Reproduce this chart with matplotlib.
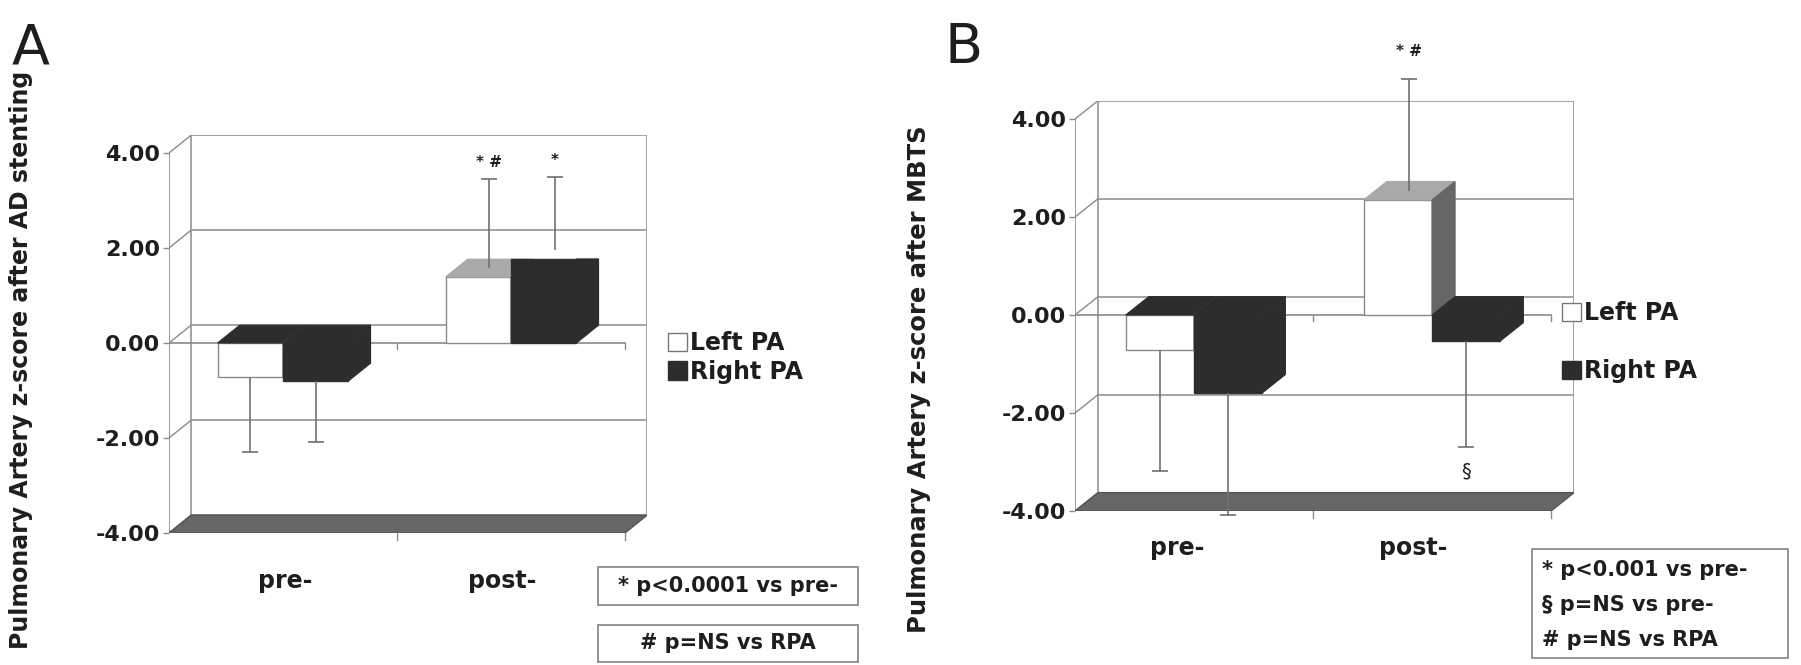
import matplotlib
matplotlib.use('Agg')
import matplotlib.pyplot as plt
from matplotlib.patches import Polygon, Rectangle, Patch

W, H = 1801, 665

categories = ['pre-', 'post-']
series = ['Left PA', 'Right PA']
yticks = [-4, -2, 0, 2, 4]

# panel A: after AD stenting
a_left = [-0.72, 1.39]
a_right = [-0.80, 1.77]
a_left_sd = [1.57, 1.87]
a_right_sd = [1.28, 1.53]

# panel B: after MBTS
b_left = [-0.71, 2.35]
b_right = [-1.59, -0.53]
b_left_sd = [2.47, 2.27]
b_right_sd = [2.50, 2.16]

a_notes = ['* p<0.0001 vs pre-', '# p=NS vs RPA']
b_notes = ['* p<0.001 vs pre-', '\u00a7 p=NS vs pre-', '# p=NS vs RPA']

BAR_W = 0.287
DX = 0.097
DY = 0.375

DARK = '#2d2d2d'
GRID = '#a4a4a4'
AXC = '#8a8a8a'
TXT = '#1e1e1e'

plt.rcParams['font.family'] = ['DejaVu Sans']

fig = plt.figure(figsize=(W / 100, H / 100), dpi=100)
fig.patch.set_facecolor('white')


def make_axes(x_px0, x_scale, y_px0, y_scale):
    # pixel position of the data box (-0.5 .. 1.5+DX, -4 .. 4+DY)
    left = x_px0
    right = x_px0 + (2 + DX) * x_scale
    top = y_px0 - (4 + DY) * y_scale
    bottom = y_px0 + 4 * y_scale
    ax = fig.add_axes([left / W, 1 - bottom / H, (right - left) / W, (bottom - top) / H])
    ax.set_xlim(-0.5, 1.5 + DX)
    ax.set_ylim(-4, 4 + DY)
    for s in ax.spines.values():
        s.set_visible(False)
    ax.patch.set_alpha(0)
    return ax


def draw_bar(ax, x0, v, front, top, side, edge, show_top=True):
    w = BAR_W
    ax.add_patch(Rectangle((x0, min(v, 0)), w, abs(v), fc=front, ec=edge, lw=1, zorder=3))
    if v >= 0:
        if show_top:
            ax.add_patch(Polygon([(x0, v), (x0 + w, v), (x0 + w + DX, v + DY), (x0 + DX, v + DY)],
                                 fc=top, ec=top, lw=0.8, zorder=3))
            ax.add_patch(Polygon([(x0 + w, 0), (x0 + w + DX, DY), (x0 + w + DX, v + DY), (x0 + w, v)],
                                 fc=side, ec=side, lw=0.8, zorder=3))
        else:
            ax.add_patch(Polygon([(x0 + w, 0), (x0 + w + DX, DY), (x0 + w + DX, v), (x0 + w, v)],
                                 fc=side, ec=side, lw=0.8, zorder=3))
    else:
        ax.add_patch(Polygon([(x0, 0), (x0 + w, 0), (x0 + w + DX, DY), (x0 + DX, DY)],
                             fc=DARK, ec=DARK, lw=0.8, zorder=3))
        ax.add_patch(Polygon([(x0 + w, v), (x0 + w + DX, v + DY), (x0 + w + DX, DY), (x0 + w, 0)],
                             fc=side, ec=side, lw=0.8, zorder=3))


def draw_err(ax, xc, v, sd):
    if v >= 0:
        ex, ey, yerr = xc + DX / 2, v + DY / 2, [[0], [sd]]
    else:
        ex, ey, yerr = xc, v, [[sd], [0]]
    _, caps, _ = ax.errorbar([ex], [ey], yerr=yerr, fmt='none', ecolor='#707070',
                             elinewidth=1.2, capsize=5.5, capthick=1.2, zorder=5, clip_on=False)
    for c in caps:
        c.set_clip_on(False)
        if abs(c.get_ydata()[0] - ey) < 1e-9:
            c.set_visible(False)
    return ex, (ey + sd if v >= 0 else ey - sd)


def panel(ax, left, right, left_sd, right_sd, xlabel_pos, xlabel_pad):
    # back wall and grid
    ax.add_patch(Rectangle((-0.5 + DX, -4 + DY), 2, 8, fc='white', ec=GRID, lw=1.4, zorder=1))
    for g in yticks:
        ax.plot([-0.5 + DX, 1.5 + DX], [g + DY, g + DY], color=GRID, lw=1.4, zorder=1)
        ax.plot([-0.5, -0.5 + DX], [g, g + DY], color=AXC, lw=1.0, zorder=1)
    ax.plot([-0.5, -0.5], [-4, 4], color=AXC, lw=1.2, zorder=2)
    # floor
    ax.add_patch(Polygon([(-0.5, -4), (1.5, -4), (1.5 + DX, -4 + DY), (-0.5 + DX, -4 + DY)],
                         fc='#666666', ec='#555555', lw=1, zorder=2))
    # category axis at zero and floor ticks
    ax.plot([-0.5, 1.5], [0, 0], color=AXC, lw=1.2, zorder=2)
    for xt in [0.5, 1.5]:
        ax.plot([xt, xt], [0, -0.12], color=AXC, lw=1.0, zorder=2)
        ax.plot([xt, xt], [-4, -4.14], color=AXC, lw=1.0, zorder=2, clip_on=False)

    tips = []
    for i in range(len(categories)):
        xl = i - BAR_W
        xr = i
        lv, rv = left[i], right[i]
        draw_bar(ax, xl, lv, 'white', '#a9a9a9' if lv >= 0 else DARK, '#666666', '#8a8a8a')
        draw_bar(ax, xr, rv, DARK, DARK, DARK, DARK, show_top=False)
        tips.append(draw_err(ax, xl + BAR_W / 2, lv, left_sd[i]))
        tips.append(draw_err(ax, xr + BAR_W / 2, rv, right_sd[i]))

    ax.set_yticks(yticks)
    ax.set_yticklabels(['%.2f' % t for t in yticks])
    ax.tick_params(axis='y', length=4.5, width=1, color=AXC, pad=2, labelsize=16,
                   labelcolor=TXT)
    ax.set_xticks(xlabel_pos)
    ax.set_xticklabels(categories)
    ax.tick_params(axis='x', length=0, pad=xlabel_pad, labelsize=17, labelcolor=TXT)
    for lab in ax.get_xticklabels() + ax.get_yticklabels():
        lab.set_fontweight('bold')
    return tips


def note_box(x0, y0, x1, y1):
    fig.add_artist(Rectangle((x0 / W, 1 - y1 / H), (x1 - x0) / W, (y1 - y0) / H,
                             transform=fig.transFigure, fc='white', ec='#8c8c8c', lw=1.3))


def legend(ax, x_px, y_px, spacing):
    handles = [Patch(fc='white', ec='#777777', lw=1), Patch(fc=DARK, ec=DARK)]
    ax.legend(handles, series, loc='upper left', bbox_to_anchor=(x_px / W, 1 - y_px / H),
              bbox_transform=fig.transFigure, frameon=False, handlelength=0.8,
              handleheight=0.8, handletextpad=0.15, borderpad=0, borderaxespad=0,
              labelspacing=spacing, prop={'size': 17, 'weight': 'bold'}, labelcolor=TXT)


# ---- panel A ----
axA = make_axes(169, 228, 343, 47.5)
tipsA = panel(axA, a_left, a_right, a_left_sd, a_right_sd, [0.01, 0.96], 26)
axA.text(tipsA[2][0], tipsA[2][1] + 0.36, '* #', ha='center', va='center', fontsize=11,
         fontweight='bold', color=TXT)
axA.text(tipsA[3][0], tipsA[3][1] + 0.36, '*', ha='center', va='center', fontsize=11,
         fontweight='bold', color=TXT)
legend(axA, 668, 331, 0.2)
fig.text(12 / W, 1 - 63 / H, 'A', fontsize=40, va='baseline', ha='left', color=TXT)
fig.text(21 / W, 1 - 360 / H, 'Pulmonary Artery z-score after AD stenting', rotation=90,
         ha='center', va='center', fontsize=17, fontweight='bold', color=TXT)
note_box(598, 567, 858, 605)
fig.text(728 / W, 1 - 586 / H, a_notes[0], ha='center', va='center', fontsize=15,
         fontweight='bold', color=TXT)
note_box(598, 625, 858, 662)
fig.text(728 / W, 1 - 643 / H, a_notes[1], ha='center', va='center', fontsize=15,
         fontweight='bold', color=TXT)

# ---- panel B ----
axB = make_axes(1075, 238, 315, 49)
tipsB = panel(axB, b_left, b_right, b_left_sd, b_right_sd, [-0.07, 0.92], 18)
axB.text(tipsB[2][0], tipsB[2][1] + 0.57, '* #', ha='center', va='center', fontsize=11,
         fontweight='bold', color=TXT, clip_on=False)
axB.text(tipsB[3][0], tipsB[3][1] - 0.49, '\u00a7', ha='center', va='center', fontsize=14,
         color=TXT)
legend(axB, 1562, 301, 1.45)
fig.text(944 / W, 1 - 63 / H, 'B', fontsize=40, va='baseline', ha='left', color=TXT)
fig.text(919 / W, 1 - 379 / H, 'Pulmonary Artery z-score after MBTS', rotation=90,
         ha='center', va='center', fontsize=17.5, fontweight='bold', color=TXT)
note_box(1532, 549, 1788, 658)
for t, yy in zip(b_notes, [570, 605, 640]):
    fig.text(1542 / W, 1 - yy / H, t, ha='left', va='center', fontsize=15,
             fontweight='bold', color=TXT)

fig.savefig('out.png', dpi=100, facecolor='white')
